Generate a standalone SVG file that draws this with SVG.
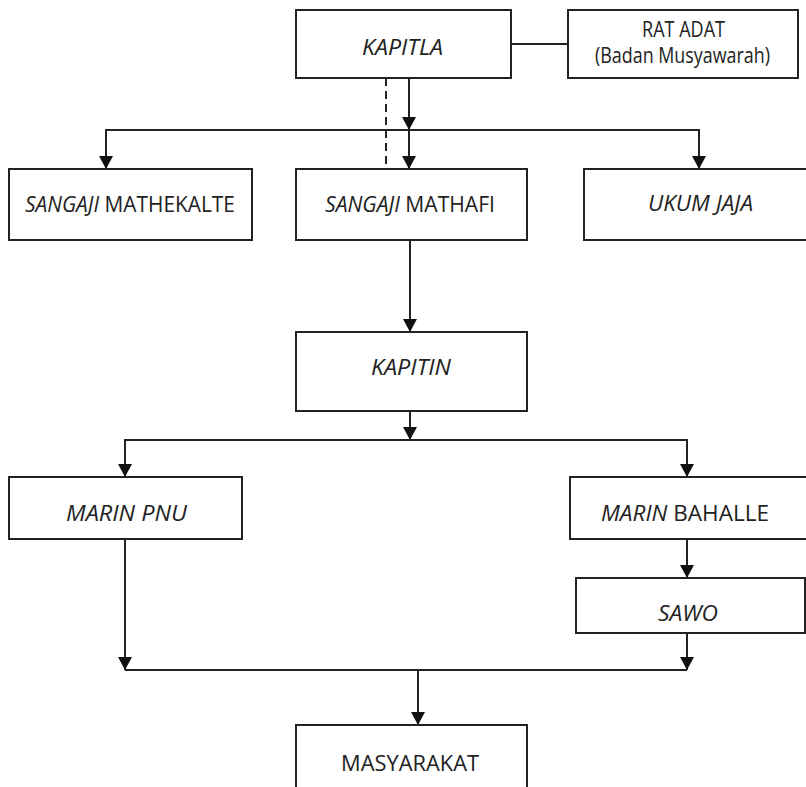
<svg xmlns="http://www.w3.org/2000/svg" width="806" height="787" viewBox="0 0 806 787">
<style>
.box{fill:#fff;stroke:#222;stroke-width:2}
.ln{fill:none;stroke:#222;stroke-width:2}
.dash{fill:none;stroke:#222;stroke-width:2;stroke-dasharray:8 5}
text{font-family:"Open Sans","Noto Sans",sans-serif;font-size:21px;fill:#222;text-anchor:middle}
.i{font-style:italic}
</style>
<defs>
<marker id="arr" markerUnits="userSpaceOnUse" markerWidth="14" markerHeight="14" viewBox="0 0 12 13" refX="12" refY="6.5" orient="auto">
<path d="M0,0 L12,6.5 L0,13 Z" fill="#111"/>
</marker>
</defs>
<rect width="806" height="787" fill="#fff"/>
<g id="connectors">
<line class="ln" x1="511" y1="44" x2="568" y2="44"/>
<line class="dash" x1="386" y1="78" x2="386" y2="169"/>
<line class="ln" x1="409" y1="78" x2="409" y2="130" marker-end="url(#arr)"/>
<polyline class="ln" points="106,169 106,130 699,130 699,169"/>
<line class="ln" x1="106" y1="130" x2="106" y2="169" marker-end="url(#arr)"/>
<line class="ln" x1="699" y1="130" x2="699" y2="169" marker-end="url(#arr)"/>
<line class="ln" x1="409" y1="130" x2="409" y2="169" marker-end="url(#arr)"/>
<line class="ln" x1="410" y1="240" x2="410" y2="332" marker-end="url(#arr)"/>
<line class="ln" x1="410" y1="411" x2="410" y2="440" marker-end="url(#arr)"/>
<polyline class="ln" points="125,477 125,440 687,440 687,477"/>
<line class="ln" x1="125" y1="440" x2="125" y2="477" marker-end="url(#arr)"/>
<line class="ln" x1="687" y1="440" x2="687" y2="477" marker-end="url(#arr)"/>
<line class="ln" x1="687" y1="539" x2="687" y2="578" marker-end="url(#arr)"/>
<line class="ln" x1="125" y1="539" x2="125" y2="670" marker-end="url(#arr)"/>
<line class="ln" x1="687" y1="633" x2="687" y2="670" marker-end="url(#arr)"/>
<line class="ln" x1="125" y1="670" x2="687" y2="670"/>
<line class="ln" x1="418" y1="670" x2="418" y2="725" marker-end="url(#arr)"/>
</g>
<g id="kapitla"><rect class="box" x="296" y="10" width="215" height="68"/><text class="i" x="402.5" y="55" textLength="81" lengthAdjust="spacingAndGlyphs">KAPITLA</text></g>
<g id="rat-adat"><rect class="box" x="568" y="10" width="230" height="68"/><text x="683.5" y="37" textLength="83" lengthAdjust="spacingAndGlyphs">RAT ADAT</text><text x="682.5" y="63" textLength="175" lengthAdjust="spacingAndGlyphs">(Badan Musyawarah)</text></g>
<g id="sangaji-mathekalte"><rect class="box" x="9" y="169" width="243" height="71"/><text x="130" y="212" textLength="210" lengthAdjust="spacingAndGlyphs"><tspan class="i">SANGAJI</tspan> MATHEKALTE</text></g>
<g id="sangaji-mathafi"><rect class="box" x="296" y="169" width="231" height="71"/><text x="410" y="212" textLength="170" lengthAdjust="spacingAndGlyphs"><tspan class="i">SANGAJI</tspan> MATHAFI</text></g>
<g id="ukum-jaja"><rect class="box" x="584" y="169" width="230" height="71"/><text class="i" x="700.5" y="211" textLength="105" lengthAdjust="spacingAndGlyphs">UKUM JAJA</text></g>
<g id="kapitin"><rect class="box" x="296" y="332" width="231" height="79"/><text class="i" x="411" y="375" textLength="80" lengthAdjust="spacingAndGlyphs">KAPITIN</text></g>
<g id="marin-pnu"><rect class="box" x="9" y="477" width="233" height="62"/><text class="i" x="126.5" y="521" textLength="121" lengthAdjust="spacingAndGlyphs">MARIN PNU</text></g>
<g id="marin-bahalle"><rect class="box" x="570" y="477" width="240" height="62"/><text x="685" y="521" textLength="168" lengthAdjust="spacingAndGlyphs"><tspan class="i">MARIN</tspan> BAHALLE</text></g>
<g id="sawo"><rect class="box" x="576" y="578" width="229" height="55"/><text class="i" x="688" y="621" textLength="60" lengthAdjust="spacingAndGlyphs">SAWO</text></g>
<g id="masyarakat"><rect class="box" x="296" y="725" width="231" height="80"/><text x="410" y="771" textLength="138" lengthAdjust="spacingAndGlyphs">MASYARAKAT</text></g>
</svg>
